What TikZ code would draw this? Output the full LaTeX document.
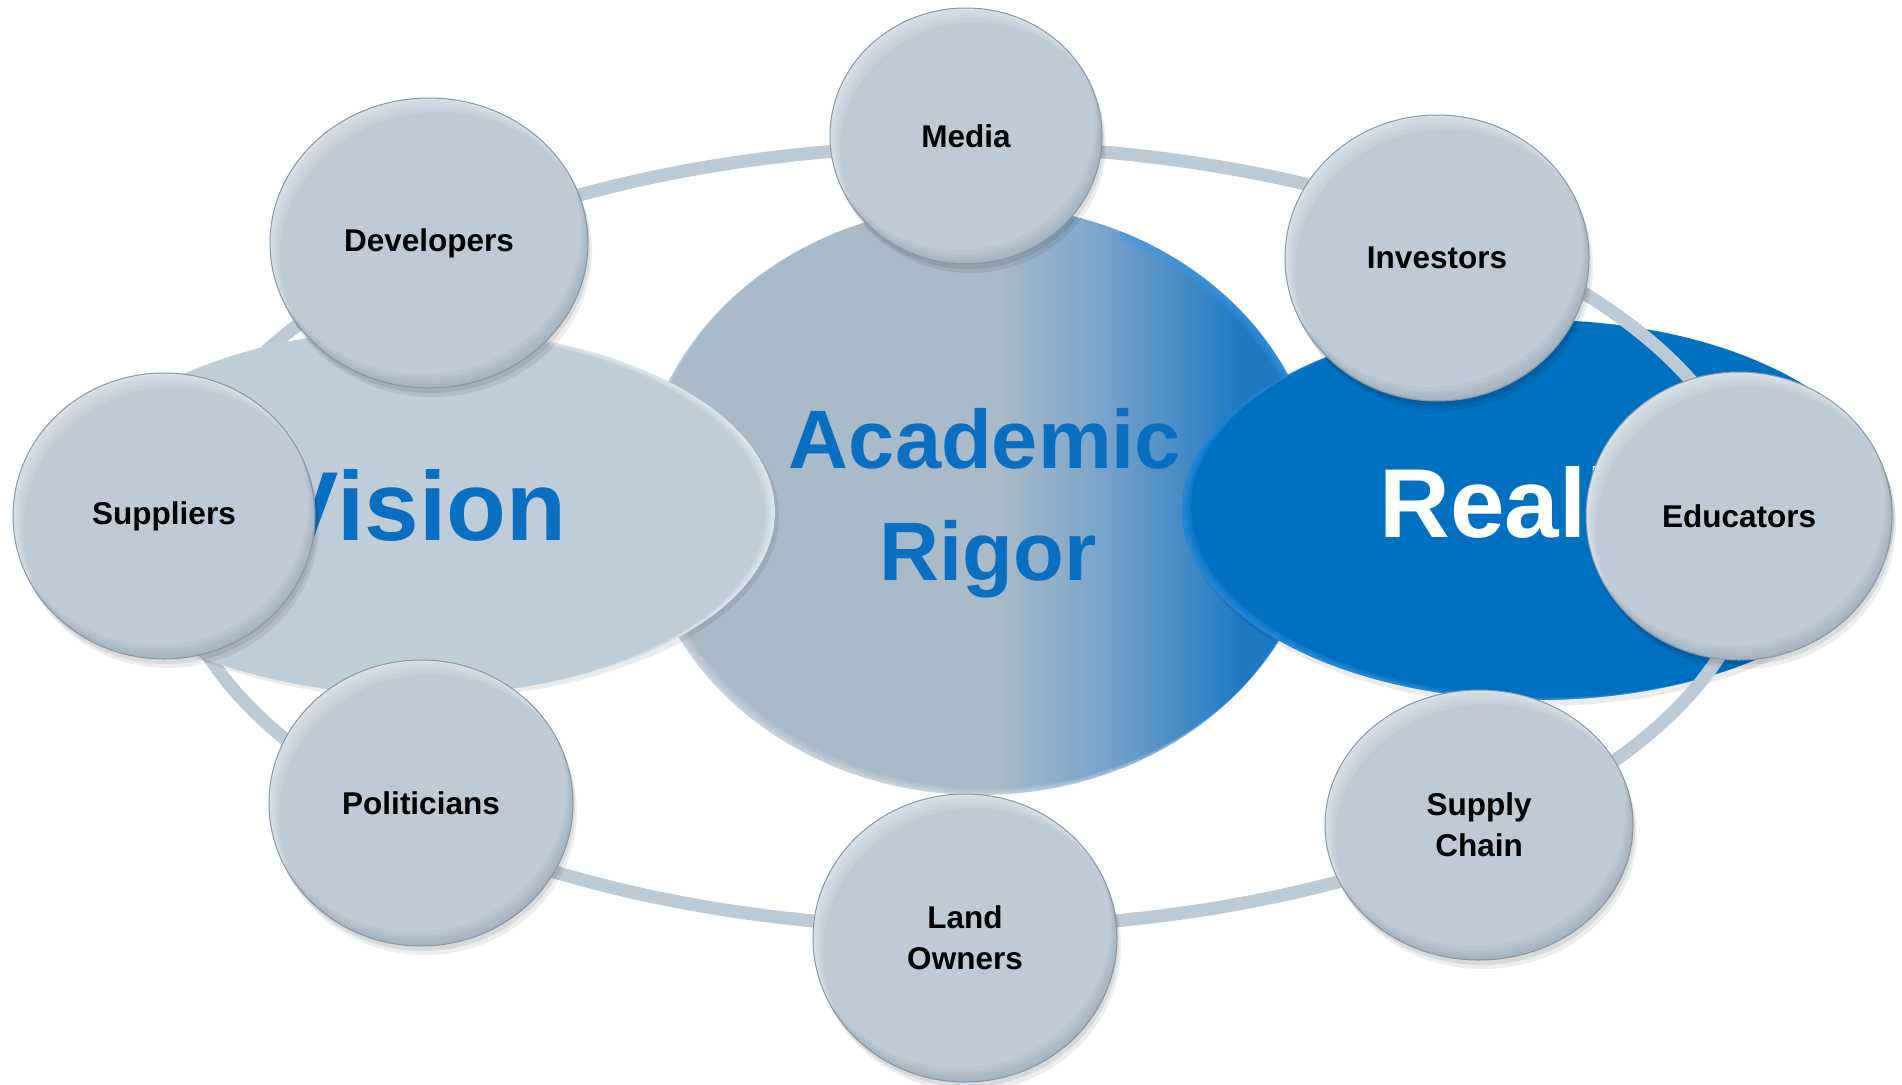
\documentclass[tikz,border=0pt]{standalone}
\usepackage{fontspec}
\setmainfont{Liberation Sans}
\usetikzlibrary{shapes.geometric}

\definecolor{ringc}{HTML}{BCCAD6}
\definecolor{bub}{HTML}{BECBD6}
\definecolor{bubedge}{HTML}{8796A4}
\definecolor{bubdark}{HTML}{7F909F}
\definecolor{visc}{HTML}{BFCDD9}
\definecolor{acadgray}{HTML}{A9BAC9}
\definecolor{acadmid}{HTML}{74A1CB}
\definecolor{acadblue}{HTML}{1F79C3}
\definecolor{realc}{HTML}{0070C0}
\definecolor{realrim}{HTML}{3C98E6}
\definecolor{txtblue}{HTML}{0A6FC0}

\tikzset{
  bubblenode/.style={ellipse, fill=bub, draw=none, inner sep=0pt, align=center,
    font=\bfseries\fontsize{31.5}{41}\selectfont, text=black},
  bigword/.style={anchor=base, inner sep=0pt, font=\bfseries\fontsize{98}{110}\selectfont},
  acadword/.style={anchor=base, inner sep=0pt, text=txtblue, font=\bfseries\fontsize{83}{112}\selectfont},
  ringline/.style={draw=ringc, line width=13pt}
}

% name, x, y, rx, ry, text
\newcommand\bubble[6]{%
  \fill[black, opacity=0.07] (#2+4,#3+9) ellipse [x radius=#4pt, y radius=#5pt];
  \fill[black, opacity=0.08] (#2+2,#3+5) ellipse [x radius=#4pt, y radius=#5pt];
  \node[bubblenode, minimum width={2*#4}, minimum height={2*#5}] (#1) at (#2,#3) {};
  \begin{scope}
    \clip (#2,#3) ellipse [x radius=#4pt, y radius=#5pt];
    \foreach \d in {2,4,7,10,14}{
      \fill[white, opacity=0.11, even odd rule] (#2,#3) ellipse [x radius=#4pt, y radius=#5pt]
        (#2+0.7*\d,#3+\d) ellipse [x radius=#4pt, y radius=#5pt];
      \fill[bubdark, opacity=0.09, even odd rule] (#2,#3) ellipse [x radius=#4pt, y radius=#5pt]
        (#2-0.5*\d,#3-\d) ellipse [x radius=#4pt, y radius=#5pt];
    }
  \end{scope}
  \draw[bubedge, line width=1pt] (#1.center) ellipse [x radius=#4pt, y radius=#5pt];
  \node[bubblenode, fill=none] (#1-label) at (#1.center) {#6};
}

\begin{document}
\begin{tikzpicture}[x=1pt, y=-1pt]
\useasboundingbox (0,0) rectangle (1902,1084);
\fill[white] (0,0) rectangle (1902,1084);

% ---- central ellipse with horizontal gradient
\begin{scope}
  \clip (980,500) ellipse [x radius=340pt, y radius=295pt];
  \fill[acadgray] (630,190) rectangle (1000,810);
  \shade[left color=acadgray, right color=acadmid] (999,190) rectangle (1111,810);
  \shade[left color=acadmid, right color=acadblue] (1110,190) rectangle (1241,810);
  \fill[acadblue] (1240,190) rectangle (1330,810);
  \foreach \d in {2,4,6}{
    \fill[white, opacity=0.12, even odd rule] (980,500) ellipse [x radius=340pt, y radius=295pt]
      (980+\d,500-\d) ellipse [x radius=340pt, y radius=295pt];
  }
  \clip (1120,190) rectangle (1330,810);
  \foreach \d in {2,4,6}{
    \fill[realrim, opacity=0.25, even odd rule] (980,500) ellipse [x radius=340pt, y radius=295pt]
      (980-\d,500+\d) ellipse [x radius=340pt, y radius=295pt];
  }
\end{scope}

% ---- Reality ellipse
\fill[black, opacity=0.08] (1540,516) ellipse [x radius=355pt, y radius=190pt];
\fill[realc] (1537,510) ellipse [x radius=355pt, y radius=190pt];
\begin{scope}
  \clip (1537,510) ellipse [x radius=355pt, y radius=190pt];
  \foreach \d in {3,6,9}{
    \fill[realrim, opacity=0.25, even odd rule] (1537,510) ellipse [x radius=355pt, y radius=190pt]
      (1537+\d,510-0.3*\d) ellipse [x radius=355pt, y radius=190pt];
  }
\end{scope}

% ---- ring
\draw[ringline] (964,537) ellipse [x radius=793pt, y radius=391pt];

% ---- Vision ellipse
\fill[black, opacity=0.08] (422,516) ellipse [x radius=357pt, y radius=183pt];
\fill[visc] (418,512) ellipse [x radius=357pt, y radius=183pt];
\begin{scope}
  \clip (418,512) ellipse [x radius=357pt, y radius=183pt];
  \foreach \d in {3,6,9}{
    \fill[white, opacity=0.18, even odd rule] (418,512) ellipse [x radius=357pt, y radius=183pt]
      (418-\d,512+0.2*\d) ellipse [x radius=357pt, y radius=183pt];
  }
\end{scope}

% ---- big words
\node[acadword] (acad) at (985,468) {Academic};
\node[acadword] (rigor) at (988,580) {Rigor};
\node[bigword, text=txtblue] (vision) at (420,540) {Vision};
\node[bigword, text=white] (reality) at (1540,537) {Reality};

% ---- satellite bubbles
\bubble{media}{966}{136}{136}{128}{Media}
\bubble{dev}{429}{243}{159}{145}{Developers}
\bubble{inv}{1437}{258}{152}{143}{Investors}
\bubble{sup}{164}{516}{151}{143}{Suppliers}
\bubble{edu}{1739}{516}{153}{144}{Educators}
\bubble{pol}{421}{803}{152}{143}{Politicians}
\bubble{sc}{1479}{825}{154}{135}{Supply\\Chain}
\bubble{land}{965}{938}{152}{144}{Land\\Owners}
\end{tikzpicture}
\end{document}
